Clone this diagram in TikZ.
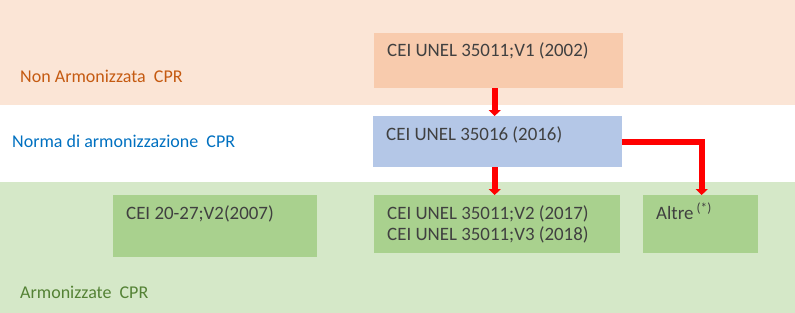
\documentclass[tikz,border=0pt]{standalone}
\usepackage{fontspec}
\setmainfont{Carlito}
\usetikzlibrary{arrows.meta,positioning}
\definecolor{peachband}{RGB}{251,229,214}
\definecolor{peachbox}{RGB}{248,203,173}
\definecolor{bluebox}{RGB}{180,199,231}
\definecolor{greenband}{RGB}{213,232,200}
\definecolor{greenbox}{RGB}{169,209,142}
\definecolor{darkorange}{RGB}{197,90,17}
\definecolor{officeblue}{RGB}{0,112,192}
\definecolor{darkgreen}{RGB}{84,130,53}
\definecolor{textgray}{RGB}{64,64,64}

\begin{document}
\begin{tikzpicture}[x=1pt, y=-1pt,
    band/.style={rectangle, inner sep=0pt, anchor=north west, minimum width=795pt},
    normbox/.style={rectangle, inner sep=0pt, anchor=north west, fill=greenbox},
    boxlabel/.style={anchor=base west, inner sep=0pt, xshift=13pt, yshift=-24pt, text=textgray, font=\fontsize{18.9}{22}\selectfont},
    bandlabel/.style={anchor=base west, inner sep=0pt, font=\fontsize{18}{22}\selectfont},
    arrow/.style={-{Triangle[width=12pt,length=6pt]}, line width=6pt, red}
]
\useasboundingbox (0,0) rectangle (795,313);

% bands
\node[band, fill=peachband, minimum height=105pt] (nonband) at (0,0) {};
\node[band, fill=greenband, minimum height=131pt] (armband) at (0,182) {};

\node[bandlabel, text=darkorange] (lblnon) at (20,82) {Non Armonizzata\ \ CPR};
\node[bandlabel, text=officeblue] (lblnorma) at (12,147) {Norma di armonizzazione\ \ CPR};
\node[bandlabel, text=darkgreen] (lblarm) at (20,298) {Armonizzate\ \ CPR};

% norme
\node[normbox, fill=peachbox, minimum width=249pt, minimum height=55pt,
    label={[boxlabel]north west:CEI UNEL 35011;V1 (2002)}] (v1) at (374,33) {};
\node[normbox, fill=bluebox, minimum width=249pt, minimum height=51pt,
    label={[boxlabel]north west:CEI UNEL 35016 (2016)}] (n35016) at (373,116) {};
\node[normbox, minimum width=204pt, minimum height=62pt,
    label={[boxlabel]north west:CEI 20-27;V2(2007)}] (v2007) at (113,195) {};
\node[normbox, minimum width=246pt, minimum height=58pt,
    label={[boxlabel]north west:CEI UNEL 35011;V2 (2017)},
    label={[boxlabel, yshift=-21pt]north west:CEI UNEL 35011;V3 (2018)}] (v2v3) at (374,195) {};
\node[normbox, minimum width=115pt, minimum height=58pt,
    label={[boxlabel]north west:Altre\,\textsuperscript{(*)}}] (altre) at (643,195) {};

\draw[arrow] ([xshift=-4pt]v1.south) -- ([xshift=-4pt]v1.south |- n35016.north);
\draw[arrow] ([xshift=-3pt]n35016.south) -- ([xshift=-3pt]n35016.south |- v2v3.north);
\draw[arrow] (n35016.east) -| ([xshift=1pt]altre.north);
\end{tikzpicture}
\end{document}
